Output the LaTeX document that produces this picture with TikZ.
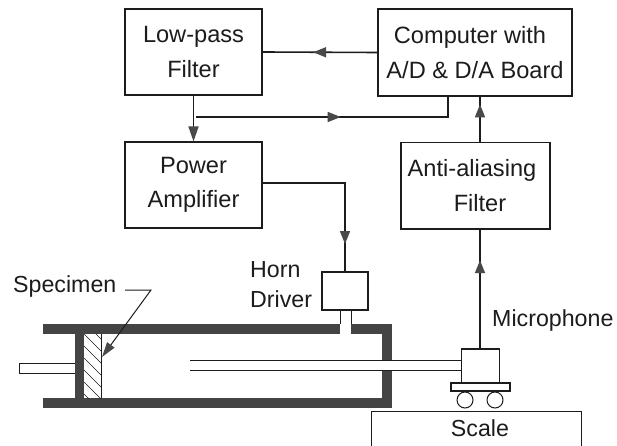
\documentclass[tikz,border=0pt]{standalone}
\usepackage{fontspec}
\setmainfont{Liberation Sans}
\usetikzlibrary{arrows.meta,decorations.markings}
\definecolor{ink}{HTML}{1c1c1c}
\definecolor{wall}{HTML}{444444}
\tikzset{
  box/.style={draw=ink,line width=1.1pt,rectangle,inner sep=0pt,align=center,text=ink,font=\fontsize{23.6}{34.5}\selectfont},
  lbl/.style={inner sep=0pt,align=left,text=ink,font=\fontsize{23.2}{30}\selectfont},
  conn/.style={draw=ink,line width=1.6pt},
  thin part/.style={draw=ink,line width=1pt},
  tip/.style={-{Triangle[length=15pt,width=10pt,color=ink!80]}},
  midtip/.style={postaction={decorate},decoration={markings,mark=at position #1 with {\arrow{Triangle[length=13pt,width=10pt,color=ink!80]}}}},
  hatchline/.style={draw=ink,line width=0.7pt}
}
\begin{document}
\begin{tikzpicture}[x=1pt,y=-1pt]
\clip (0,0) rectangle (617,446);
\fill[white] (0,0) rectangle (617,446);
% boxes
\node[box,minimum width=137pt,minimum height=86pt] (low) at (193.5,52) {Low-pass\\Filter};
\node[box,minimum width=194pt,minimum height=87pt] (comp) at (475,52.5) {Computer with\hspace*{10pt}\\A/D \& D/A Board};
\node[box,minimum width=137pt,minimum height=86pt] (power) at (193.5,185) {Power\\Amplifier};
\node[box,minimum width=149pt,minimum height=86.5pt] (anti) at (475.5,185.75) {Anti-aliasing\hspace*{7pt}\\\hspace*{9pt}Filter};
\node[box,minimum width=46pt,minimum height=38pt] (horn) at (345,291) {};
% labels
\node[lbl,anchor=west] (hornlbl) at (250,285) {Horn\\Driver};
\node[lbl,anchor=west] (miclbl) at (492,320) {Microphone};
\node[lbl,anchor=west] (spec) at (13,287) {Specimen};
% tube
\fill[wall] (43,324) rectangle (392,334);
\fill[wall] (43,398) rectangle (392,408);
\fill[wall] (381.5,324) rectangle (392,408);
\fill[wall] (75,324) rectangle (84,408);
\fill[white] (340,320) rectangle (351,334);
\draw[thin part] (340,310) -- (340,324) (351,310) -- (351,324);
% specimen
\begin{scope}
\clip (84,334) rectangle (101,398);
\foreach \y in {310,322,...,406} \draw[hatchline] (84,\y) -- (101,\y+17);
\end{scope}
\draw[thin part,line width=1.2pt] (101.5,334) -- (101.5,398);
% rod
\draw[thin part,fill=white] (75,363) -- (19,363) -- (19,373) -- (75,373);
% probe
\fill[white] (381,361) rectangle (393,370.5);
\draw[thin part] (190,360.7) -- (461.7,360.7) (190,370.5) -- (461.7,370.5);
% microphone on cart
\node[box,minimum width=37.5pt,minimum height=34pt] (mic) at (480.5,366) {};
\node[box,minimum width=59pt,minimum height=8pt] (cart) at (480.5,387) {};
\node[draw=ink,line width=1pt,circle,minimum size=16pt,inner sep=0pt] (wa) at (465,400) {};
\node[draw=ink,line width=1pt,circle,minimum size=16pt,inner sep=0pt] (wb) at (495,400) {};
% scale
\draw[draw=ink,line width=1pt] (371,447) -- (371,411) -- (581,411) -- (581,447);
\node[lbl] (scale) at (480,428) {Scale};
% connector anchors
\coordinate (branch) at (196,117);
\coordinate (compin) at (448,96);
\coordinate (compout) at (480,96);
\coordinate (antiout) at (480,142.5);
\coordinate (antiin) at (480,229);
\coordinate (micout) at (480,349);
\coordinate (powerout) at (262,183);
\coordinate (knee) at (151,290);
\coordinate (spectip) at (102,357);
\coordinate (leadstart) at (125,290);
% connectors
\draw[conn,midtip=0.56] (comp.west) -- (low.east);
\draw[conn,tip] (low.south) -- (power.north);
\draw[conn,midtip=0.53] (branch) -| (compin);
\draw[conn,midtip=0.82] (antiout) -- (compout);
\draw[conn,midtip=0.84] (powerout) -| (horn.north);
\draw[conn,midtip=0.74] (micout) -- (antiin);
\draw[draw=ink,line width=1pt,-{Triangle[length=15pt,width=9pt,color=ink!80]}] (leadstart) -- (knee) -- (spectip);
\end{tikzpicture}
\end{document}
